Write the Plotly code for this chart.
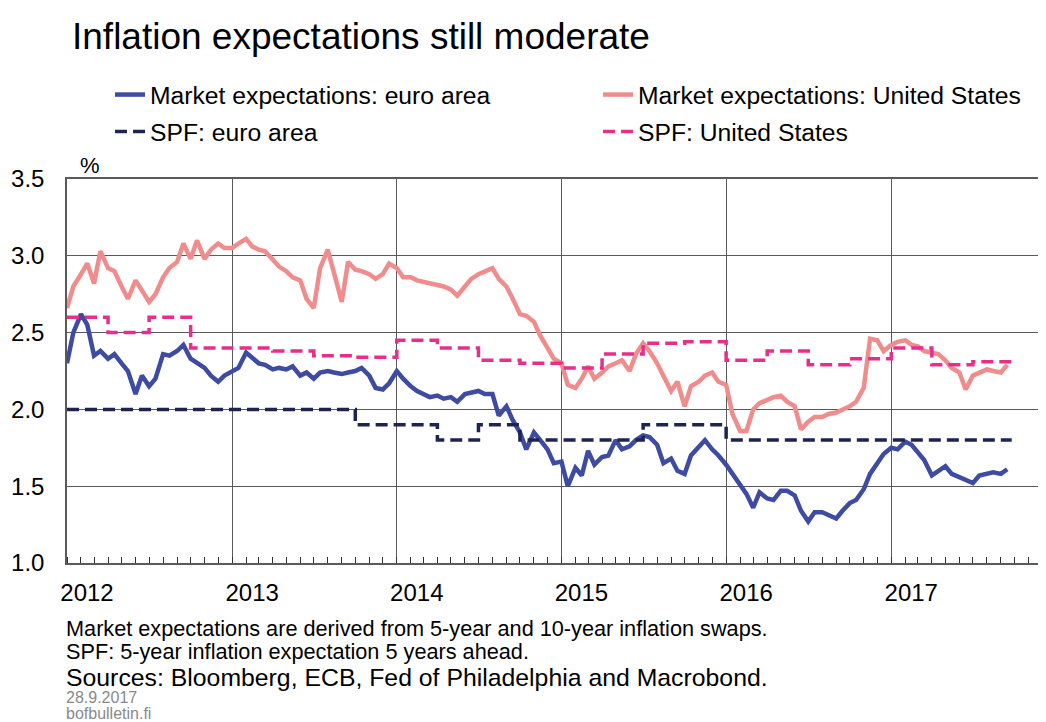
import pandas as pd
import plotly.graph_objects as go

# ---------------- data ----------------
market_dates = pd.date_range("2012-01-01", "2017-09-15", freq="SMS")

ea_market = [
    2.30, 2.50, 2.62, 2.55, 2.35, 2.38, 2.33, 2.36, 2.30, 2.25, 2.10, 2.22, 2.15, 2.20, 2.36, 2.35, 2.38, 2.42, 2.33, 2.30, 2.27, 2.22, 2.18, 2.22,
    2.25, 2.27, 2.37, 2.33, 2.30, 2.29, 2.26, 2.27, 2.26, 2.28, 2.22, 2.24, 2.20, 2.24, 2.25, 2.24, 2.23, 2.24, 2.25, 2.27, 2.22, 2.14, 2.13, 2.17,
    2.25, 2.20, 2.15, 2.12, 2.10, 2.08, 2.09, 2.07, 2.08, 2.05, 2.10, 2.11, 2.12, 2.10, 2.10, 1.96, 2.02, 1.93, 1.85, 1.74, 1.85, 1.80, 1.74, 1.65,
    1.66, 1.50, 1.62, 1.57, 1.73, 1.64, 1.69, 1.70, 1.80, 1.74, 1.76, 1.80, 1.83, 1.82, 1.77, 1.65, 1.68, 1.60, 1.58, 1.70, 1.76, 1.80, 1.74, 1.70,
    1.64, 1.58, 1.50, 1.45, 1.36, 1.46, 1.42, 1.41, 1.47, 1.47, 1.44, 1.34, 1.27, 1.33, 1.33, 1.31, 1.29, 1.34, 1.39, 1.41, 1.48, 1.58, 1.65, 1.71,
    1.75, 1.74, 1.79, 1.77, 1.72, 1.67, 1.57, 1.60, 1.63, 1.58, 1.56, 1.54, 1.52, 1.57, 1.58, 1.59, 1.58, 1.61,
]

us_market = [
    2.66, 2.80, 2.88, 2.95, 2.82, 3.03, 2.92, 2.90, 2.80, 2.72, 2.84, 2.78, 2.70, 2.75, 2.86, 2.92, 2.96, 3.08, 2.98, 3.10, 2.98, 3.04, 3.08, 3.05,
    3.05, 3.08, 3.11, 3.06, 3.04, 3.03, 2.98, 2.93, 2.90, 2.86, 2.84, 2.72, 2.66, 2.92, 3.04, 2.88, 2.70, 2.96, 2.91, 2.90, 2.88, 2.85, 2.88, 2.95,
    2.92, 2.86, 2.86, 2.84, 2.83, 2.82, 2.81, 2.80, 2.78, 2.74, 2.80, 2.85, 2.88, 2.90, 2.92, 2.85, 2.80, 2.72, 2.62, 2.61, 2.57, 2.48, 2.40, 2.33,
    2.30, 2.16, 2.14, 2.20, 2.28, 2.20, 2.24, 2.28, 2.30, 2.32, 2.25, 2.36, 2.43, 2.38, 2.30, 2.22, 2.12, 2.18, 2.02, 2.15, 2.18, 2.22, 2.24, 2.18,
    2.16, 1.97, 1.86, 1.86, 2.00, 2.04, 2.06, 2.08, 2.09, 2.05, 2.02, 1.87, 1.92, 1.95, 1.95, 1.97, 1.98, 2.00, 2.02, 2.05, 2.14, 2.46, 2.45, 2.38,
    2.42, 2.44, 2.45, 2.42, 2.41, 2.38, 2.37, 2.36, 2.32, 2.27, 2.24, 2.13, 2.22, 2.24, 2.26, 2.25, 2.24, 2.29,
]

spf_dates = [
    "2012-01-01", "2012-04-01", "2012-07-01", "2012-10-01",
    "2013-01-01", "2013-04-01", "2013-07-01", "2013-10-01",
    "2014-01-01", "2014-04-01", "2014-07-01", "2014-10-01",
    "2015-01-01", "2015-04-01", "2015-07-01", "2015-10-01",
    "2016-01-01", "2016-04-01", "2016-07-01", "2016-10-01",
    "2017-01-01", "2017-04-01", "2017-07-01", "2017-09-25",
]
spf_ea = [2.0, 2.0, 2.0, 2.0, 2.0, 2.0, 2.0, 1.9, 1.9, 1.8, 1.9, 1.8,
          1.8, 1.8, 1.9, 1.9, 1.8, 1.8, 1.8, 1.8, 1.8, 1.8, 1.8, 1.8]
spf_us = [2.60, 2.50, 2.60, 2.40, 2.40, 2.38, 2.35, 2.34, 2.45, 2.40, 2.32, 2.30,
          2.27, 2.36, 2.43, 2.44, 2.32, 2.38, 2.29, 2.33, 2.40, 2.29, 2.31, 2.31]

year_ticks = ["2012-01-01", "2013-01-01", "2014-01-01", "2015-01-01", "2016-01-01", "2017-01-01"]
year_labels = ["2012", "2013", "2014", "2015", "2016", "2017"]
y_ticks = [1.0, 1.5, 2.0, 2.5, 3.0, 3.5]
y_labels = ["1.0", "1.5", "2.0", "2.5", "3.0", "3.5"]

assert len(ea_market) == len(market_dates) == len(us_market)

FONT = "Liberation Sans, Arial, sans-serif"
GRID = "#5a5a5a"
OFF = 8                      # page body margin of the browser
W, H = 1046 - OFF, 722 - OFF
L, T = 67 - OFF, 179 - OFF
B = H - (563 - OFF)
PH = 563 - 179
PW = 1046 - 67


def px_x(px):
    return (px - 67) / PW


def px_y(py):
    return (563 - py) / PH


fig = go.Figure()
fig.add_trace(go.Scatter(x=market_dates, y=us_market, mode="lines",
                         name="Market expectations: United States",
                         line=dict(color="#F08C8C", width=4.5), legend="legend2"))
fig.add_trace(go.Scatter(x=market_dates, y=ea_market, mode="lines",
                         name="Market expectations: euro area",
                         line=dict(color="#3D4BA3", width=4.5), legend="legend"))
fig.add_trace(go.Scatter(x=spf_dates, y=spf_ea, mode="lines", line_shape="hv",
                         name="SPF: euro area",
                         line=dict(color="#1E2452", width=3.5, dash="12px,6px"), legend="legend3"))
fig.add_trace(go.Scatter(x=spf_dates, y=spf_us, mode="lines", line_shape="hv",
                         name="SPF: United States",
                         line=dict(color="#E62E8A", width=3.5, dash="12px,6px"), legend="legend4"))

leg_common = dict(orientation="h", xanchor="left", yanchor="middle",
                  xref="container", yref="container",
                  font=dict(family=FONT, size=24.7, color="#000"), bgcolor="rgba(0,0,0,0)",
                  itemwidth=30)

col1, col2 = 102 / W, 590 / W
row1, row2 = 1 - 87 / H, 1 - 124 / H

fig.update_layout(
    width=W, height=H, autosize=False,
    margin=dict(l=L, r=0, t=T, b=B, autoexpand=False),
    paper_bgcolor="white", plot_bgcolor="white",
    font=dict(family=FONT, size=24, color="#000"),
    legend=dict(x=col1, y=row1, **leg_common),
    legend2=dict(x=col2, y=row1, **leg_common),
    legend3=dict(x=col1, y=row2, **leg_common),
    legend4=dict(x=col2, y=row2, **leg_common),
    xaxis=dict(type="date", range=["2012-01-01", "2017-12-10"],
               tickmode="array", tickvals=year_ticks, ticktext=year_labels,
               ticks="", ticklabelshift=20, ticklabelstandoff=7,
               showgrid=True, gridcolor=GRID, gridwidth=1.3,
               showline=True, linecolor=GRID, linewidth=1.5, mirror=True,
               automargin=False,
               tickfont=dict(family=FONT, size=24, color="#000"),
               minor=dict(dtick="M1", tick0="2012-01-01", ticks="inside", ticklen=6,
                          tickwidth=1, tickcolor="#333", showgrid=False)),
    yaxis=dict(range=[1.0, 3.5], tickmode="array", tickvals=y_ticks, ticktext=y_labels,
               ticks="", ticklabelstandoff=16, showgrid=True, gridcolor=GRID, gridwidth=1.3,
               showline=True, linecolor=GRID, linewidth=1.5, zeroline=False, automargin=False,
               tickfont=dict(family=FONT, size=24, color="#000")),
    showlegend=True,
)

notes = [
    ("Inflation expectations still moderate", px_x(70), px_y(37), 37, "#000"),
    ("%", px_x(78), px_y(165), 22, "#000"),
    ("Market expectations are derived from 5-year and 10-year inflation swaps.", px_x(64), px_y(628), 21.7, "#000"),
    ("SPF: 5-year inflation expectation 5 years ahead.", px_x(64), px_y(651), 21.7, "#000"),
    ("Sources: Bloomberg, ECB, Fed of Philadelphia and Macrobond.", px_x(64), px_y(677), 24.8, "#000"),
    ("28.9.2017", px_x(64), px_y(697), 16, "#8a8a8a"),
    ("bofbulletin.fi", px_x(64), px_y(713), 16, "#8a8a8a"),
]
for text, x, y, size, color in notes:
    fig.add_annotation(text=text, xref="paper", yref="paper", x=x, y=y, xanchor="left",
                       yanchor="middle", showarrow=False,
                       font=dict(family=FONT, size=size, color=color))

fig.write_html("out.html")
